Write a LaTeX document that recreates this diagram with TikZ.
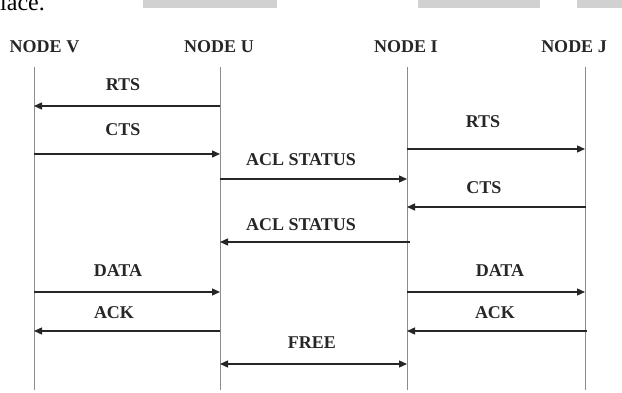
\documentclass[tikz,border=0pt]{standalone}
\usepackage{fontspec}
\setmainfont{Liberation Serif}
\usetikzlibrary{arrows.meta}
\begin{document}
\begin{tikzpicture}[x=1pt,y=-1pt,
  life/.style={draw=black!45, line width=0.9pt},
  msg/.style={draw=black!85, line width=1.3pt, -{Triangle[length=8pt,width=7pt]}},
  both/.style={draw=black!85, line width=1.3pt, {Triangle[length=8pt,width=7pt]}-{Triangle[length=8pt,width=7pt]}},
  lbl/.style={font=\fontsize{18}{20}\selectfont\bfseries, text=black!85, inner sep=0pt},
  bar/.style={fill=black!18, draw=none}]
\useasboundingbox (0,0) rectangle (622,393);
\clip (0,0) rectangle (622,393);

% page header remnants
\fill[bar] (143,0) rectangle (277,8);
\fill[bar] (418,0) rectangle (540,8);
\fill[bar] (577,0) rectangle (622,8);
\node[anchor=base east, inner sep=0pt, font=\fontsize{24}{24}\selectfont] (tail) at (45,11) {place.};

% participants
\node[lbl] (hV) at (44.5,47) {NODE V};
\node[lbl] (hU) at (219,47) {NODE U};
\node[lbl] (hI) at (406,47) {NODE I};
\node[lbl] (hJ) at (574,47) {NODE J};

% lifelines
\coordinate (Vt) at (34,67);  \coordinate (Vb) at (34,390);
\coordinate (Ut) at (220,67); \coordinate (Ub) at (220,390);
\coordinate (It) at (407,67); \coordinate (Ib) at (407,390);
\coordinate (Jt) at (585,67); \coordinate (Jb) at (585,390);
\draw[life] (Vt) -- (Vb);
\draw[life] (Ut) -- (Ub);
\draw[life] (It) -- (Ib);
\draw[life] (Jt) -- (Jb);

% message end points
\coordinate (v1) at (34,106);  \coordinate (u1) at (220,106);
\coordinate (v2) at (34,154);  \coordinate (u2) at (220,154);
\coordinate (u3) at (220,179); \coordinate (i3) at (407,179);
\coordinate (i4) at (407,149); \coordinate (j4) at (585,149);
\coordinate (j5) at (586,207); \coordinate (i5) at (407,207);
\coordinate (i6) at (410,242); \coordinate (u6) at (220,242);
\coordinate (v7) at (34,292);  \coordinate (u7) at (220,292);
\coordinate (u8) at (220,331); \coordinate (v8) at (34,331);
\coordinate (u9) at (220,364); \coordinate (i9) at (407,364);
\coordinate (i10) at (407,292); \coordinate (j10) at (585,292);
\coordinate (j11) at (587,331); \coordinate (i11) at (407,331);

% messages
\draw[msg] (u1) -- (v1);
\node[lbl] (l1) at (123,85) {RTS};
\draw[msg] (v2) -- (u2);
\node[lbl] (l2) at (123,130) {CTS};
\draw[msg] (u3) -- (i3);
\node[lbl] (l3) at (301,160) {ACL STATUS};
\draw[msg] (i4) -- (j4);
\node[lbl] (l4) at (483,122) {RTS};
\draw[msg] (j5) -- (i5);
\node[lbl] (l5) at (484,188) {CTS};
\draw[msg] (i6) -- (u6);
\node[lbl] (l6) at (301,225) {ACL STATUS};
\draw[msg] (v7) -- (u7);
\node[lbl] (l7) at (118,271) {DATA};
\draw[msg] (u8) -- (v8);
\node[lbl] (l8) at (114,313) {ACK};
\draw[both] (u9) -- (i9);
\node[lbl] (l9) at (312,343) {FREE};
\draw[msg] (i10) -- (j10);
\node[lbl] (l10) at (500,271) {DATA};
\draw[msg] (j11) -- (i11);
\node[lbl] (l11) at (495,313) {ACK};
\end{tikzpicture}
\end{document}
